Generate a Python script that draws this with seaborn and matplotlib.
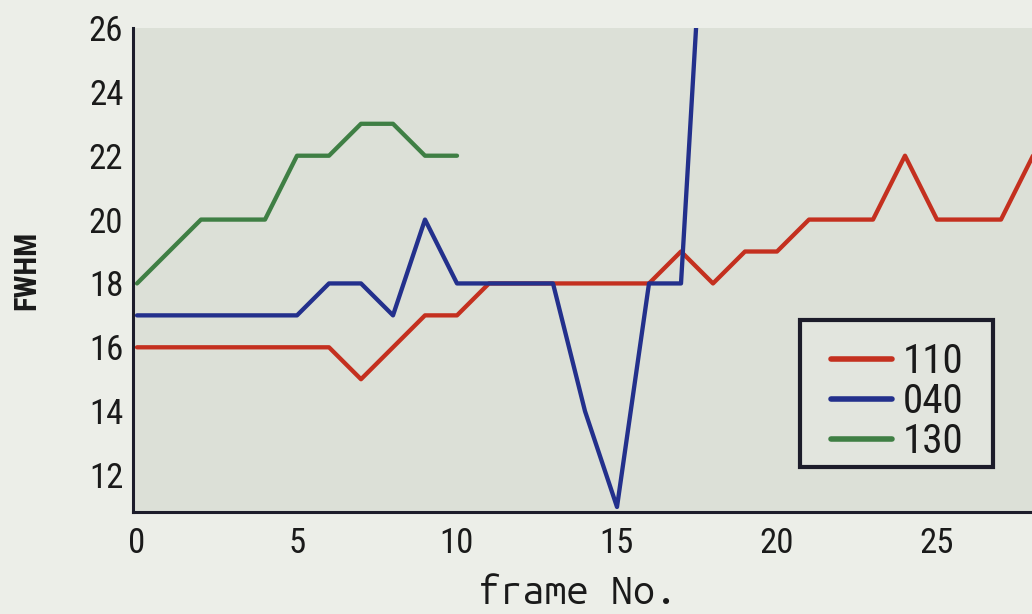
import numpy as np
import pandas as pd
import matplotlib
matplotlib.use("Agg")
import matplotlib.pyplot as plt
from matplotlib.lines import Line2D
from matplotlib.patches import Rectangle
import seaborn as sns

# FWHM per frame for three reflections
frames_110 = list(range(0, 29))
fwhm_110 = [16, 16, 16, 16, 16, 16, 16, 15, 16, 17, 17, 18, 18, 18, 18, 18,
            18, 19, 18, 19, 19, 20, 20, 20, 22, 20, 20, 20, 22]

frames_040 = list(range(0, 19))
fwhm_040 = [17, 17, 17, 17, 17, 17, 18, 18, 17, 20, 18, 18, 18, 18, 14, 11,
            18, 18, 35]

frames_130 = list(range(0, 11))
fwhm_130 = [18, 19, 20, 20, 20, 22, 22, 23, 23, 22, 22]

series_names = ["110", "040", "130"]
series_colors = ["#c4301f", "#23308c", "#3f7f44"]

x_ticks = [0, 5, 10, 15, 20, 25]
y_ticks = [12, 14, 16, 18, 20, 22, 24, 26]

df = pd.concat([
    pd.DataFrame({"frame": frames_110, "FWHM": fwhm_110, "peak": "110"}),
    pd.DataFrame({"frame": frames_040, "FWHM": fwhm_040, "peak": "040"}),
    pd.DataFrame({"frame": frames_130, "FWHM": fwhm_130, "peak": "130"}),
], ignore_index=True)

sns.set_theme(style="white")
narrow = ["Roboto Condensed", "Archivo Narrow", "Encode Sans Condensed",
          "Liberation Sans", "DejaVu Sans"]
mono = ["Ubuntu Mono", "DejaVu Sans Mono"]
plt.rcParams["font.family"] = narrow

W, H = 1032, 614
fig = plt.figure(figsize=(W / 100, H / 100), dpi=100)
fig.patch.set_facecolor("#eceee8")

# axes geometry in pixels
px_unit_x = 32.0
px_unit_y = 31.93
left_px, top_px, bottom_px = 133, 28, 512
xlim = (-0.125, 28.5)
ylim = (26 - (bottom_px - top_px) / px_unit_y, 26)
ax_w = (xlim[1] - xlim[0]) * px_unit_x
ax_h = bottom_px - top_px
ax = fig.add_axes([left_px / W, 1 - bottom_px / H, ax_w / W, ax_h / H])
ax.set_facecolor("#dce0d7")

sns.lineplot(data=df, x="frame", y="FWHM", hue="peak", hue_order=series_names,
             palette=dict(zip(series_names, series_colors)), linewidth=3.1,
             ax=ax, legend=False, estimator=None, sort=False)

ax.set_xlim(*xlim)
ax.set_ylim(*ylim)
ax.set_xticks(x_ticks)
ax.set_yticks(y_ticks)

spine_color = "#1c1c2a"
for side in ["top", "right"]:
    ax.spines[side].set_visible(False)
for side in ["left", "bottom"]:
    ax.spines[side].set_color(spine_color)
    ax.spines[side].set_linewidth(2.2)

ax.tick_params(axis="both", direction="in", length=14, width=2.0,
               color=spine_color, labelcolor="#1a1a1a", labelsize=25)
ax.tick_params(axis="x", pad=11)
ax.tick_params(axis="y", pad=7)

ax.set_xlabel("frame No.", fontsize=28.5, color="#1a1a1a", family=mono)
ax.xaxis.set_label_coords((578 - left_px) / ax_w, (bottom_px - 574) / ax_h)
ax.set_ylabel("FWHM", fontsize=22, fontweight="bold", color="#1a1a1a")
ax.yaxis.set_label_coords((26 - left_px) / ax_w, 0.5)
ax.yaxis.label.set_va("center")

# legend box (figure pixel coordinates) and its entries
box_l, box_t, box_r, box_b = 800, 320, 993, 467
ax.add_patch(Rectangle((box_l / W, 1 - box_b / H), (box_r - box_l) / W,
                       (box_b - box_t) / H, transform=fig.transFigure,
                       facecolor="#e2e5de", edgecolor=spine_color,
                       linewidth=3.0, clip_on=False, zorder=5))

handles = [Line2D([0], [0], color=c, linewidth=4) for c in series_colors]
leg = ax.legend(handles, series_names, loc="upper left",
                bbox_to_anchor=((831 - left_px) / ax_w, (bottom_px - 342) / ax_h),
                fontsize=29.5, frameon=False, handlelength=1.5,
                handletextpad=0.25, labelspacing=0.03, borderpad=0.0,
                borderaxespad=0.0)
leg.set_zorder(6)
for t in leg.get_texts():
    t.set_color("#1a1a1a")

fig.savefig("out.png", dpi=100, facecolor=fig.get_facecolor())
